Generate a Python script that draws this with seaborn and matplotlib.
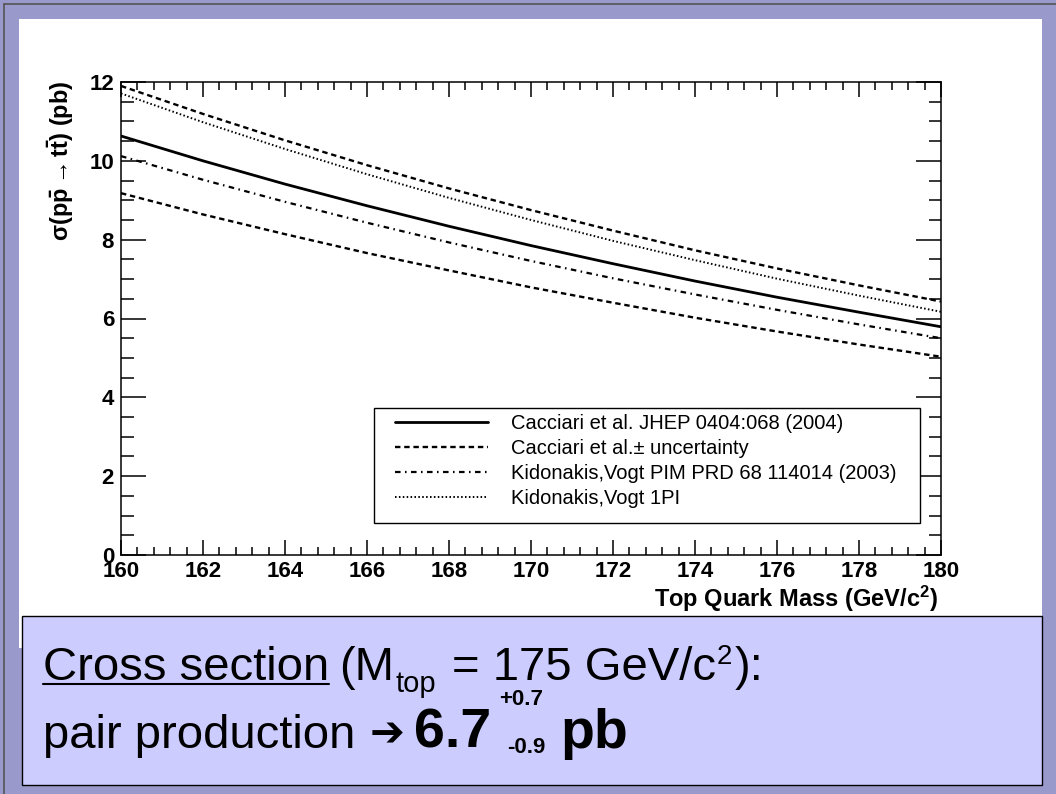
import matplotlib
matplotlib.use("Agg")
import matplotlib.pyplot as plt
import seaborn as sns
from matplotlib.patches import Rectangle
from matplotlib.lines import Line2D
from matplotlib.ticker import MultipleLocator

# valeurs (pb)
top_mass = [160, 162, 164, 166, 168, 170, 172, 174, 176, 178, 180]
cacciari = [10.63, 10.00, 9.41, 8.86, 8.34, 7.85, 7.39, 6.95, 6.54, 6.16, 5.79]
cacciari_up = [11.90, 11.19, 10.52, 9.89, 9.30, 8.75, 8.23, 7.73, 7.27, 6.84, 6.43]
cacciari_down = [9.18, 8.64, 8.14, 7.66, 7.22, 6.79, 6.40, 6.02, 5.67, 5.34, 5.03]
kidonakis_pim = [10.12, 9.52, 8.96, 8.43, 7.93, 7.46, 7.02, 6.61, 6.22, 5.85, 5.50]
kidonakis_1pi = [11.71, 10.98, 10.30, 9.66, 9.06, 8.50, 7.97, 7.48, 7.01, 6.58, 6.17]

legend_labels = [
    "Cacciari et al. JHEP 0404:068 (2004)",
    "Cacciari et al.\u00b1 uncertainty",
    "Kidonakis,Vogt PIM PRD 68 114014 (2003)",
    "Kidonakis,Vogt 1PI",
]
x_label = "Top Quark Mass (GeV/c$^{2}$)"
y_label = r"$\sigma(p\bar{p} \rightarrow t\bar{t})$ (pb)"

sns.set_theme(style="ticks")
plt.rcParams["font.family"] = ["Liberation Sans", "DejaVu Sans"]
plt.rcParams["text.color"] = "black"
plt.rcParams["axes.labelcolor"] = "black"
plt.rcParams["xtick.color"] = "black"
plt.rcParams["ytick.color"] = "black"
plt.rcParams["mathtext.fontset"] = "custom"
plt.rcParams["mathtext.rm"] = "Liberation Sans:bold"
plt.rcParams["mathtext.it"] = "Liberation Sans:bold"
plt.rcParams["mathtext.bf"] = "Liberation Sans:bold"

W, H = 1056, 794
fig = plt.figure(figsize=(W / 100, H / 100), dpi=100, facecolor="#9999cc")


def fx(px):
    return px / W


def fy(py):
    return 1 - py / H


# fond de la diapo
fig.patches.append(Rectangle((fx(19), fy(648)), (1042 - 19) / W, (648 - 19) / H,
                             transform=fig.transFigure, facecolor="white",
                             edgecolor="none", zorder=-2))
fig.add_artist(Line2D([fx(4), fx(4)], [0, fy(4)], color="#555555", lw=1.2))
fig.add_artist(Line2D([fx(4), 1], [fy(4), fy(4)], color="#555555", lw=1.2))

# graphique
ax = fig.add_axes([fx(121), fy(555), (941 - 121) / W, (555 - 82) / H])
ax.set_facecolor("white")

sns.lineplot(x=top_mass, y=cacciari, ax=ax, color="black", lw=2.0,
             label=legend_labels[0])
sns.lineplot(x=top_mass, y=cacciari_up, ax=ax, color="black", lw=1.7,
             linestyle=(0, (2.3, 1.6)), label=legend_labels[1])
sns.lineplot(x=top_mass, y=cacciari_down, ax=ax, color="black", lw=1.7,
             linestyle=(0, (2.3, 1.6)), label="_nolegend_")
sns.lineplot(x=top_mass, y=kidonakis_pim, ax=ax, color="black", lw=1.6,
             linestyle=(0, (2.5, 2.0, 0.7, 2.0)), label=legend_labels[2])
sns.lineplot(x=top_mass, y=kidonakis_1pi, ax=ax, color="black", lw=1.4,
             linestyle=(0, (0.8, 1.2)), label=legend_labels[3])

ax.set_xlim(160, 180)
ax.set_ylim(0, 12)
ax.set_xlabel("")
ax.set_ylabel("")
ax.xaxis.set_major_locator(MultipleLocator(2))
ax.xaxis.set_minor_locator(MultipleLocator(0.4))
ax.yaxis.set_major_locator(MultipleLocator(2))
ax.yaxis.set_minor_locator(MultipleLocator(0.5))
ax.tick_params(which="both", direction="in", top=True, right=True,
               bottom=True, left=True, width=1.1, color="black")
ax.tick_params(axis="x", which="major", length=11, pad=4, labelsize=16)
ax.tick_params(axis="x", which="minor", length=6)
ax.tick_params(axis="y", which="major", length=18, pad=5, labelsize=16)
ax.tick_params(axis="y", which="minor", length=9)
for lab in ax.get_xticklabels() + ax.get_yticklabels():
    lab.set_fontweight("bold")
for sp in ax.spines.values():
    sp.set_visible(True)
    sp.set_color("black")
    sp.set_linewidth(1.1)

fig.text(fx(938), fy(599), x_label, ha="right", va="center",
         fontsize=17, fontweight="bold")
fig.text(fx(61), fy(80), y_label, rotation=90, ha="center", va="top",
         fontsize=17, fontweight="bold")

# légende façon ROOT
x0, x1 = (374 - 121) / 820, (920 - 121) / 820
y0, y1 = (555 - 523) / 473, (555 - 408) / 473
ax.add_patch(Rectangle((x0, y0), x1 - x0, y1 - y0, transform=ax.transAxes,
                       facecolor="white", edgecolor="black", lw=1.0, zorder=3))
leg = ax.legend(loc="upper left", bbox_to_anchor=((395 - 121) / 820, (555 - 414) / 473),
                frameon=False, fontsize=14.5, handlelength=4.6, handletextpad=1.15,
                labelspacing=0.3, borderpad=0, borderaxespad=0)
leg.set_zorder(4)

# encadré du bas
fig.patches.append(Rectangle((fx(22), fy(785)), (1042 - 22) / W, (785 - 616) / H,
                             transform=fig.transFigure, facecolor="#ccccff",
                             edgecolor="black", lw=1.0, zorder=1))

renderer = fig.canvas.get_renderer()


def put_run(pieces, x, base, family=None):
    for text, size, weight, dy, gap in pieces:
        x += gap
        t = fig.text(fx(x), fy(base + dy), text, fontsize=size, fontweight=weight,
                     ha="left", va="baseline", zorder=5)
        if family:
            t.set_family(family)
        bb = t.get_window_extent(renderer)
        x += bb.width
    return x


t_cs = fig.text(fx(43), fy(680), "Cross section", fontsize=34, ha="left",
                va="baseline", zorder=5)
bb = t_cs.get_window_extent(renderer)
fig.add_artist(Line2D([bb.x0 / W, bb.x1 / W], [fy(684), fy(684)], color="black", lw=1.5))

line1 = [
    ("(M", 34, "normal", 0, 10),
    ("top", 21, "normal", 12, 1),
    ("= 175 GeV/c", 34, "normal", 0, 16),
    ("2", 20, "normal", -16, 1),
    ("):", 34, "normal", 0, 2),
]
put_run(line1, bb.x1, 680)

x_end = put_run([("pair production", 34, "normal", 0, 0)], 43, 748)
x_end = put_run([("\u2794", 30, "bold", -2, 14)], x_end, 748, family=["DejaVu Sans"])
x_end = put_run([("6.7", 40, "bold", 0, 10)], x_end, 748)
fig.text(fx(x_end + 8), fy(705), "+0.7", fontsize=16, fontweight="bold",
         ha="left", va="baseline", zorder=5)
x_sub = put_run([("-0.9", 16, "bold", 0, 16)], x_end, 753)
put_run([("pb", 40, "bold", 0, 14)], x_sub, 748)

plt.savefig("out.png", dpi=100, facecolor=fig.get_facecolor())
